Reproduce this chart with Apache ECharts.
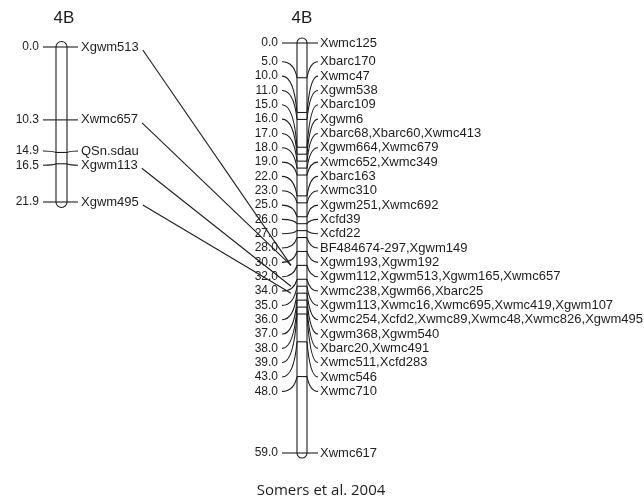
<!DOCTYPE html>
<html><head><meta charset="utf-8">
<script src="https://cdn.jsdelivr.net/npm/echarts@6/dist/echarts.min.js"></script>
<style>html,body{margin:0;padding:0;background:#fff}#c{width:644px;height:499px}</style>
</head><body><div id="c"></div>
<script>
// ---------- data ----------
const leftMapTitle = '4B';
const leftPositions = [0.0, 10.3, 14.9, 16.5, 21.9];
const leftPositionLabels = ['0.0', '10.3', '14.9', '16.5', '21.9'];
const leftMarkerLabels = ['Xgwm513', 'Xwmc657', 'QSn.sdau', 'Xgwm113', 'Xgwm495'];

const rightMapTitle = '4B';
const rightPositions = [0, 5, 10, 11, 15, 16, 17, 18, 19, 22, 23, 25, 26, 27, 28, 30, 32, 34, 35, 36, 37, 38, 39, 43, 48, 59];
const rightPositionLabels = ['0.0', '5.0', '10.0', '11.0', '15.0', '16.0', '17.0', '18.0', '19.0', '22.0', '23.0', '25.0', '26.0', '27.0', '28.0', '30.0', '32.0', '34.0', '35.0', '36.0', '37.0', '38.0', '39.0', '43.0', '48.0', '59.0'];
const rightMarkerLabels = [
  'Xwmc125', 'Xbarc170', 'Xwmc47', 'Xgwm538', 'Xbarc109', 'Xgwm6',
  'Xbarc68,Xbarc60,Xwmc413', 'Xgwm664,Xwmc679', 'Xwmc652,Xwmc349', 'Xbarc163',
  'Xwmc310', 'Xgwm251,Xwmc692', 'Xcfd39', 'Xcfd22', 'BF484674-297,Xgwm149',
  'Xgwm193,Xgwm192', 'Xgwm112,Xgwm513,Xgwm165,Xwmc657', 'Xwmc238,Xgwm66,Xbarc25',
  'Xgwm113,Xwmc16,Xwmc695,Xwmc419,Xgwm107', 'Xwmc254,Xcfd2,Xwmc89,Xwmc48,Xwmc826,Xgwm495',
  'Xgwm368,Xgwm540', 'Xbarc20,Xwmc491', 'Xwmc511,Xcfd283', 'Xwmc546', 'Xwmc710', 'Xwmc617'
];
const sharedMarkers = ['Xgwm513', 'Xwmc657', 'Xgwm113', 'Xgwm495'];
const caption = 'Somers et al. 2004';

// ---------- styles / layout ----------
const INK = '#1e1e1e';
const FONT_NUM = '12px "Liberation Sans", Arial, sans-serif';
const FONT_NAME = '13px "Liberation Sans", Arial, sans-serif';
const FONT_TITLE = '17px "Liberation Sans", Arial, sans-serif';
const LABEL_GAP = 14.33;
const cfg = [
  {leadL: 13, numOff: 17, leadR: 11, nameOff: 14, titleShift: 2.5},
  {leadL: 15, numOff: 19, leadR: 11, nameOff: 13, titleShift: 0}
];

const measureCtx = document.createElement('canvas').getContext('2d');
function textWidth(t, font) { measureCtx.font = font; return measureCtx.measureText(t).width; }

function spread(ys, gap) {
  let cl = ys.map((y, i) => ({s: i, e: i, top: y}));
  let changed = true;
  while (changed) {
    changed = false;
    for (let k = 0; k < cl.length - 1; k++) {
      const a = cl[k], b = cl[k + 1];
      if (a.top + (a.e - a.s + 1) * gap > b.top + 0.01) {
        const s = a.s, e = b.e; let sum = 0;
        for (let i = s; i <= e; i++) sum += ys[i] - (i - s) * gap;
        cl.splice(k, 2, {s, e, top: sum / (e - s + 1)});
        changed = true; break;
      }
    }
  }
  const out = [];
  cl.forEach(c => { for (let i = c.s; i <= c.e; i++) out[i] = c.top + (i - c.s) * gap; });
  return out;
}

function layout(coord, positions) {
  const ys = positions.map(p => coord([0, p])[1]);
  return {ys, labelYs: spread(ys, LABEL_GAP), barL: coord([0, 0])[0], barR: coord([1, 0])[0]};
}

const lineStyle = {stroke: INK, lineWidth: 1.1, fill: null};

function barRenderer(positions, title, c) {
  return function (params, api) {
    const top = api.coord([0, positions[0]]);
    const bot = api.coord([1, positions[positions.length - 1]]);
    const w = bot[0] - top[0];
    return {type: 'group', children: [
      {type: 'rect', shape: {x: top[0], y: top[1] - w / 2, width: w, height: bot[1] - top[1] + w, r: w / 2},
        style: {fill: '#fff', stroke: INK, lineWidth: 1.1}},
      {type: 'text', x: (top[0] + bot[0]) / 2 + c.titleShift, y: 18.5,
        style: {text: title, font: FONT_TITLE, fill: INK, align: 'center', verticalAlign: 'middle'}}
    ]};
  };
}

function markerRenderer(positions, numLabels, names, c) {
  return function (params, api) {
    const L = layout(api.coord, positions);
    const i = params.dataIndex;
    const ay = L.ys[i], ly = L.labelYs[i];
    const ch = [];
    ch.push({type: 'line', shape: {x1: L.barL, y1: ay, x2: L.barR, y2: ay}, style: lineStyle});
    const x0 = L.barL - c.leadL, x1 = L.barR + c.leadR;
    if (Math.abs(ly - ay) < 0.5) {
      ch.push({type: 'line', shape: {x1: x0, y1: ly, x2: L.barL, y2: ay}, style: lineStyle});
      ch.push({type: 'line', shape: {x1: L.barR, y1: ay, x2: x1, y2: ly}, style: lineStyle});
    } else {
      ch.push({type: 'bezierCurve', shape: {x1: x0, y1: ly, x2: L.barL, y2: ay, cpx1: L.barL - 3, cpy1: ly}, style: lineStyle});
      ch.push({type: 'bezierCurve', shape: {x1: L.barR, y1: ay, x2: x1, y2: ly, cpx1: L.barR + 3, cpy1: ly}, style: lineStyle});
    }
    ch.push({type: 'text', x: L.barL - c.numOff, y: ly,
      style: {text: numLabels[i], font: FONT_NUM, fill: INK, align: 'right', verticalAlign: 'middle'}});
    ch.push({type: 'text', x: L.barR + c.nameOff, y: ly,
      style: {text: names[i], font: FONT_NAME, fill: INK, align: 'left', verticalAlign: 'middle'}});
    return {type: 'group', children: ch};
  };
}

const chart = echarts.init(document.getElementById('c'), null, {renderer: 'canvas'});

function linkRenderer(params, api) {
  const name = sharedMarkers[params.dataIndex];
  const li = leftMarkerLabels.indexOf(name);
  const ri = rightMarkerLabels.findIndex(s => s.split(',').includes(name));
  if (li < 0 || ri < 0) return null;
  const leftCoord = v => chart.convertToPixel({xAxisIndex: 0, yAxisIndex: 0}, v);
  const LL = layout(leftCoord, leftPositions);
  const RL = layout(api.coord, rightPositions);
  const sx = LL.barR + cfg[0].nameOff + textWidth(name, FONT_NAME) + 4;
  const sy = LL.labelYs[li] + 3;
  const ex = RL.barL - 6, ey = RL.ys[ri];
  return {type: 'line', shape: {x1: sx, y1: sy, x2: ex, y2: ey}, style: lineStyle};
}

const leftIdx = leftPositions.map((p, i) => [i, p]);
const rightIdx = rightPositions.map((p, i) => [i, p]);

chart.setOption({
  backgroundColor: '#fff',
  animation: false,
  grid: [
    {left: 56, top: 47, width: 11, height: 155},
    {left: 297, top: 43, width: 10, height: 410}
  ],
  xAxis: [
    {gridIndex: 0, type: 'value', min: 0, max: 1, show: false},
    {gridIndex: 1, type: 'value', min: 0, max: 1, show: false}
  ],
  yAxis: [
    {gridIndex: 0, type: 'value', inverse: true, min: Math.min(...leftPositions), max: Math.max(...leftPositions), show: false},
    {gridIndex: 1, type: 'value', inverse: true, min: Math.min(...rightPositions), max: Math.max(...rightPositions), show: false}
  ],
  graphic: [{type: 'text', x: 321, y: 491,
    style: {text: caption, font: '15px "Open Sans", sans-serif', fill: INK, align: 'center', verticalAlign: 'middle'}}],
  series: [
    {type: 'custom', xAxisIndex: 0, yAxisIndex: 0, silent: true, clip: false, z: 1,
      renderItem: barRenderer(leftPositions, leftMapTitle, cfg[0]), data: [[0, 0]]},
    {type: 'custom', xAxisIndex: 1, yAxisIndex: 1, silent: true, clip: false, z: 1,
      renderItem: barRenderer(rightPositions, rightMapTitle, cfg[1]), data: [[0, 0]]},
    {type: 'custom', xAxisIndex: 0, yAxisIndex: 0, silent: true, clip: false, z: 2,
      renderItem: markerRenderer(leftPositions, leftPositionLabels, leftMarkerLabels, cfg[0]), data: leftIdx},
    {type: 'custom', xAxisIndex: 1, yAxisIndex: 1, silent: true, clip: false, z: 2,
      renderItem: markerRenderer(rightPositions, rightPositionLabels, rightMarkerLabels, cfg[1]), data: rightIdx},
    {type: 'custom', xAxisIndex: 1, yAxisIndex: 1, silent: true, clip: false, z: 3,
      renderItem: linkRenderer, data: sharedMarkers.map((m, i) => [i, 0])}
  ]
});
</script>
</body></html>
